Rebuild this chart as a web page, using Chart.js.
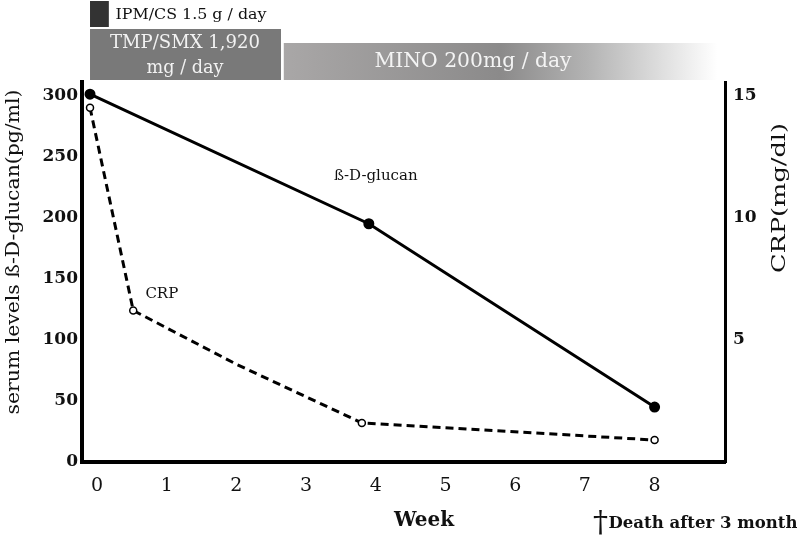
<!DOCTYPE html>
<html>
<head>
<meta charset="utf-8">
<script src="https://cdn.jsdelivr.net/npm/chart.js@4.4.1/dist/chart.umd.min.js"></script>
<style>
  html, body { margin: 0; padding: 0; background: #fff; }
  #wrap { width: 797px; height: 538px; }
</style>
</head>
<body>
<div id="wrap"><canvas id="chart" width="797" height="538"></canvas></div>
<script>
// values
const weekTicks = [0, 1, 2, 3, 4, 5, 6, 7, 8];
const glucanTicks = [0, 50, 100, 150, 200, 250, 300];
const crpTicks = [5, 10, 15];

const glucanWeeks = [-0.1, 3.9, 8];
const glucanValues = [301, 195, 45];

const crpWeeks = [-0.1, 0.52, 2, 3.8, 8];
const crpValues = [14.5, 6.2, 4.0, 1.6, 0.9];
const crpMarked = [true, true, false, true, true];

// treatment bars (weeks)
const regimenNames = ["IPM/CS 1.5 g / day", "TMP/SMX 1,920|mg / day", "MINO 200mg / day"];
const regimenStart = [-0.1, -0.1, 2.68];
const regimenEnd = [0.17, 2.64, 8.9];

// in-plot series labels
const seriesNames = ["ß-D-glucan", "CRP"];
const seriesLabelWeek = [4.0, 0.93];
const seriesLabelValue = [234, 137];

const FONT = "'DejaVu Serif', 'Liberation Serif', serif";

// draw text centred at (x, y), stretched to a given width
function fitText(ctx, text, x, y, width, angle) {
  const w = ctx.measureText(text).width;
  ctx.save();
  ctx.translate(x, y);
  if (angle) ctx.rotate(angle);
  ctx.scale(width / w, 1);
  ctx.textAlign = "center";
  ctx.fillText(text, 0, 0);
  ctx.restore();
}

const extras = {
  id: "extras",
  afterDraw(chart) {
    const ctx = chart.ctx;
    const x = chart.scales.x;
    const y = chart.scales.y;
    ctx.save();
    ctx.textBaseline = "middle";

    // IPM/CS
    let x0 = x.getPixelForValue(regimenStart[0]);
    let x1 = x.getPixelForValue(regimenEnd[0]);
    ctx.fillStyle = "#333333";
    ctx.fillRect(x0, 1, x1 - x0, 26);
    ctx.fillStyle = "#111";
    ctx.font = "15px " + FONT;
    fitText(ctx, regimenNames[0], 191, 15, 151);

    // TMP/SMX
    x0 = x.getPixelForValue(regimenStart[1]);
    x1 = x.getPixelForValue(regimenEnd[1]);
    ctx.fillStyle = "#797979";
    ctx.fillRect(x0, 29, x1 - x0, 51);
    ctx.fillStyle = "#f2f2f2";
    ctx.font = "19px " + FONT;
    const lines = regimenNames[1].split("|");
    fitText(ctx, lines[0], 185, 43, 150);
    fitText(ctx, lines[1], 185, 68, 77);

    // MINO with fade
    x0 = x.getPixelForValue(regimenStart[2]);
    x1 = x.getPixelForValue(regimenEnd[2]);
    const g = ctx.createLinearGradient(x0, 0, x1, 0);
    g.addColorStop(0, "#a9a7a7");
    g.addColorStop(0.5, "#8b8a8a");
    g.addColorStop(0.7, "#b3b3b3");
    g.addColorStop(1, "#ffffff");
    ctx.fillStyle = g;
    ctx.fillRect(x0, 43, x1 - x0, 37);
    ctx.fillStyle = "#f4f4f4";
    ctx.font = "20px " + FONT;
    fitText(ctx, regimenNames[2], 473, 62, 197);

    // series labels
    ctx.fillStyle = "#111";
    ctx.font = "15px " + FONT;
    ctx.textAlign = "center";
    ctx.fillText(seriesNames[0], x.getPixelForValue(seriesLabelWeek[0]), y.getPixelForValue(seriesLabelValue[0]));
    ctx.fillText(seriesNames[1], x.getPixelForValue(seriesLabelWeek[1]), y.getPixelForValue(seriesLabelValue[1]));

    // axis titles
    ctx.font = "19px " + FONT;
    fitText(ctx, "serum levels ß-D-glucan(pg/ml)", 14, 252, 325, -Math.PI / 2);
    ctx.font = "19px " + FONT;
    fitText(ctx, "CRP(mg/dl)", 780, 198, 150, -Math.PI / 2);

    ctx.font = "bold 20px " + FONT;
    ctx.textAlign = "center";
    ctx.fillText("Week", 424, 521);

    ctx.textAlign = "left";
    ctx.font = "30px " + FONT;
    ctx.fillText("†", 593, 524);
    ctx.font = "bold 16px " + FONT;
    fitText(ctx, "Death after 3 month", 703, 524, 189);

    ctx.restore();
  }
};

new Chart(document.getElementById("chart"), {
  type: "line",
  data: {
    datasets: [
      {
        label: "ß-D-glucan",
        data: glucanWeeks.map((w, i) => ({ x: w, y: glucanValues[i] })),
        yAxisID: "y",
        borderColor: "#000",
        borderWidth: 3,
        pointRadius: 4,
        pointBackgroundColor: "#000",
        pointBorderColor: "#000",
        tension: 0
      },
      {
        label: "CRP",
        data: crpWeeks.map((w, i) => ({ x: w, y: crpValues[i] })),
        yAxisID: "y1",
        borderColor: "#000",
        borderWidth: 3,
        borderDash: [8, 5],
        pointRadius: crpMarked.map((m) => (m ? 3.5 : 0)),
        pointBorderWidth: 1.5,
        pointBackgroundColor: "#fff",
        pointBorderColor: "#000",
        tension: 0
      }
    ]
  },
  options: {
    responsive: false,
    animation: false,
    layout: { padding: { top: 82, left: 0, right: 0, bottom: 0 } },
    plugins: { legend: { display: false }, tooltip: { enabled: false } },
    scales: {
      x: {
        type: "linear",
        min: -0.215,
        max: 9.01,
        grid: { display: false },
        border: { display: true, color: "#000", width: 4 },
        afterBuildTicks: (s) => { s.ticks = weekTicks.map((v) => ({ value: v })); },
        afterFit: (s) => { s.height = 76; },
        ticks: { color: "#111", padding: 5, font: { family: FONT, size: 19 } }
      },
      y: {
        position: "left",
        min: 0,
        max: 311,
        grid: { display: false },
        border: { display: true, color: "#000", width: 4 },
        afterBuildTicks: (s) => { s.ticks = glucanTicks.map((v) => ({ value: v })); },
        afterFit: (s) => { s.width = 82; },
        ticks: { color: "#111", padding: -4, font: { family: FONT, size: 17, weight: "bold" } }
      },
      y1: {
        position: "right",
        min: 0,
        max: 311 / 20,
        grid: { display: false },
        border: { display: true, color: "#000", width: 3 },
        afterBuildTicks: (s) => { s.ticks = crpTicks.map((v) => ({ value: v })); },
        afterFit: (s) => { s.width = 72; },
        ticks: { color: "#111", padding: 0, font: { family: FONT, size: 17, weight: "bold" } }
      }
    }
  },
  plugins: [extras]
});
</script>
</body>
</html>
